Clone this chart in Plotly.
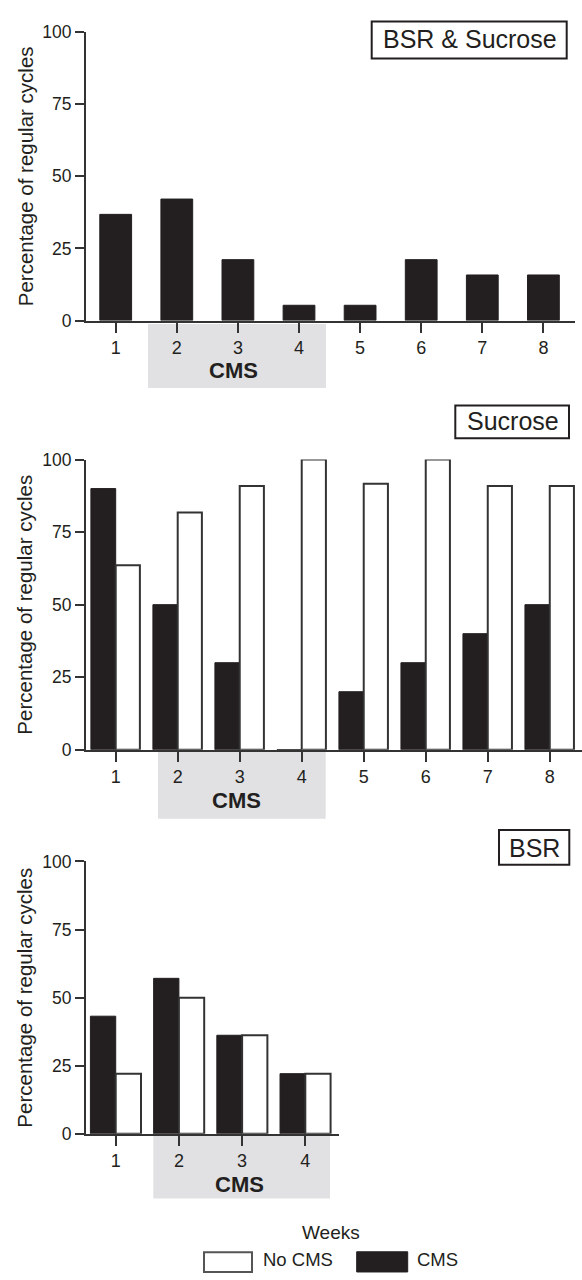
import plotly.graph_objects as go

# ---- data -------------------------------------------------------------
weeks_8 = [1, 2, 3, 4, 5, 6, 7, 8]
weeks_4 = [1, 2, 3, 4]
week_labels_8 = ["1", "2", "3", "4", "5", "6", "7", "8"]
week_labels_4 = ["1", "2", "3", "4"]
y_ticks = [0, 25, 50, 75, 100]

# BSR & Sucrose (CMS group only)
bsr_sucrose_cms = [36.8, 42.1, 21.1, 5.3, 5.3, 21.1, 15.8, 15.8]
# Sucrose
sucrose_cms = [90.0, 50.0, 30.0, 0.0, 20.0, 30.0, 40.0, 50.0]
sucrose_no_cms = [63.6, 81.8, 90.9, 100.0, 91.7, 100.0, 90.9, 90.9]
# BSR
bsr_cms = [43.2, 57.1, 36.2, 22.1]
bsr_no_cms = [22.1, 50.0, 36.2, 22.1]

# ---- styling ----------------------------------------------------------
W, H = 582, 1280
INK = "#231f20"
GREY_BAND = "#e1e1e3"
FONT = "Liberation Sans, Arial, sans-serif"


def px(xp):
    return xp / W


def py(yp):
    return 1 - yp / H


# panel geometry in pixels: (x0, x1, ytop, ybottom, x-range)
panels = {
    "top": (86, 575, 22.3, 315.5, [0.514, 8.517]),
    "mid": (86, 582, 456.7, 751.5, [0.521, 8.52]),
    "bot": (86, 339, 865.0, 1141.7, [0.53, 4.533]),
}

fig = go.Figure()

# top panel: CMS only
fig.add_trace(go.Bar(
    x=weeks_8, y=bsr_sucrose_cms, width=0.52, name="CMS",
    marker=dict(color=INK, line=dict(color=INK, width=1)),
    xaxis="x", yaxis="y", showlegend=False))

# middle panel: CMS vs No CMS
fig.add_trace(go.Bar(
    x=weeks_8, y=sucrose_cms, width=0.40, offset=-0.40, name="CMS",
    marker=dict(color=INK, line=dict(color=INK, width=1)),
    xaxis="x2", yaxis="y2", showlegend=False))
fig.add_trace(go.Bar(
    x=weeks_8, y=sucrose_no_cms, width=0.39, offset=0.0, name="No CMS",
    marker=dict(color="white", line=dict(color="#333333", width=2)),
    xaxis="x2", yaxis="y2", showlegend=False))

# bottom panel: CMS vs No CMS
fig.add_trace(go.Bar(
    x=weeks_4, y=bsr_cms, width=0.40, offset=-0.40, name="CMS",
    marker=dict(color=INK, line=dict(color=INK, width=1)),
    xaxis="x3", yaxis="y3", showlegend=False))
fig.add_trace(go.Bar(
    x=weeks_4, y=bsr_no_cms, width=0.40, offset=0.0, name="No CMS",
    marker=dict(color="white", line=dict(color="#333333", width=2)),
    xaxis="x3", yaxis="y3", showlegend=False))


def xaxis_style(key, ticks, labels):
    x0, x1, yt, yb, rng = panels[key]
    return dict(
        domain=[px(x0), px(x1)], range=rng,
        tickvals=ticks, ticktext=labels,
        showline=True, linecolor="#333333", linewidth=2,
        ticks="outside", ticklen=10, tickwidth=2, tickcolor="#333333",
        showgrid=False, zeroline=False, fixedrange=True,
        tickfont=dict(family=FONT, size=18, color=INK),
    )


def yaxis_style(key):
    x0, x1, yt, yb, rng = panels[key]
    return dict(
        domain=[py(yb), py(yt)], range=[0, 100],
        tickvals=y_ticks,
        showline=True, linecolor="#333333", linewidth=2,
        ticks="outside", ticklen=9, tickwidth=2, tickcolor="#333333",
        showgrid=False, zeroline=False, fixedrange=True,
        tickfont=dict(family=FONT, size=17.5, color=INK),
    )


shapes = []
annotations = []

# grey "CMS" bands under the week axis
bands = [
    (148, 326, 319, 384, 233, 366.5),
    (158, 325.7, 752.7, 821.5, 236, 803),
    (153.3, 330, 1143.3, 1207.3, 239, 1193.3),
]
for bx0, bx1, by0, by1, tx, ty in bands:
    shapes.append(dict(type="rect", xref="paper", yref="paper",
                       x0=px(bx0), x1=px(bx1), y0=py(by1), y1=py(by0),
                       fillcolor=GREY_BAND, line=dict(width=0), layer="below"))
    annotations.append(dict(text="<b>CMS</b>", xref="paper", yref="paper",
                            x=px(tx), y=py(ty), xanchor="center", yanchor="middle",
                            showarrow=False,
                            font=dict(family=FONT, size=22, color=INK)))

# boxed panel titles
title_boxes = [
    ("BSR & Sucrose", 371.7, 566.7, 11.7, 49.3, 469.5, 29.5),
    ("Sucrose", 455.3, 569, 401.7, 435, 512.5, 418),
    ("BSR", 499, 569.3, 833, 868.3, 534.5, 851),
]
for txt, bx0, bx1, by0, by1, tx, ty in title_boxes:
    shapes.append(dict(type="rect", xref="paper", yref="paper",
                       x0=px(bx0), x1=px(bx1), y0=py(by1), y1=py(by0),
                       fillcolor="white", line=dict(color=INK, width=2)))
    annotations.append(dict(text=txt, xref="paper", yref="paper",
                            x=px(tx), y=py(ty), xanchor="center", yanchor="middle",
                            showarrow=False,
                            font=dict(family=FONT, size=25, color=INK)))

# y-axis titles
for key in ["top", "mid", "bot"]:
    x0, x1, yt, yb, rng = panels[key]
    annotations.append(dict(text="Percentage of regular cycles",
                            xref="paper", yref="paper",
                            x=px(25), y=py((yt + yb) / 2),
                            xanchor="center", yanchor="middle", textangle=-90,
                            showarrow=False,
                            font=dict(family=FONT, size=20.5, color=INK)))

# shared x title and key
annotations.append(dict(text="Weeks", xref="paper", yref="paper",
                        x=px(331), y=py(1242.3), xanchor="center", yanchor="middle",
                        showarrow=False, font=dict(family=FONT, size=19, color=INK)))
shapes.append(dict(type="rect", xref="paper", yref="paper",
                   x0=px(204), x1=px(252), y0=py(1282), y1=py(1262),
                   fillcolor="white", line=dict(color="#555555", width=2)))
annotations.append(dict(text="No CMS", xref="paper", yref="paper",
                        x=px(261), y=py(1269), xanchor="left", yanchor="middle",
                        showarrow=False, font=dict(family=FONT, size=18.5, color=INK)))
shapes.append(dict(type="rect", xref="paper", yref="paper",
                   x0=px(356.7), x1=px(407.7), y0=py(1282), y1=py(1261.5),
                   fillcolor=INK, line=dict(color=INK, width=1)))
annotations.append(dict(text="CMS", xref="paper", yref="paper",
                        x=px(414.5), y=py(1269), xanchor="left", yanchor="middle",
                        showarrow=False, font=dict(family=FONT, size=18.5, color=INK)))

fig.update_layout(
    width=W, height=H,
    margin=dict(l=0, r=0, t=0, b=0),
    paper_bgcolor="white", plot_bgcolor="white",
    barmode="overlay",
    font=dict(family=FONT, color=INK),
    xaxis=dict(anchor="y", **xaxis_style("top", weeks_8, week_labels_8)),
    yaxis=dict(anchor="x", **yaxis_style("top")),
    xaxis2=dict(anchor="y2", **xaxis_style("mid", weeks_8, week_labels_8)),
    yaxis2=dict(anchor="x2", **yaxis_style("mid")),
    xaxis3=dict(anchor="y3", **xaxis_style("bot", weeks_4, week_labels_4)),
    yaxis3=dict(anchor="x3", **yaxis_style("bot")),
    shapes=shapes,
    annotations=annotations,
)

fig.write_html("out.html")
